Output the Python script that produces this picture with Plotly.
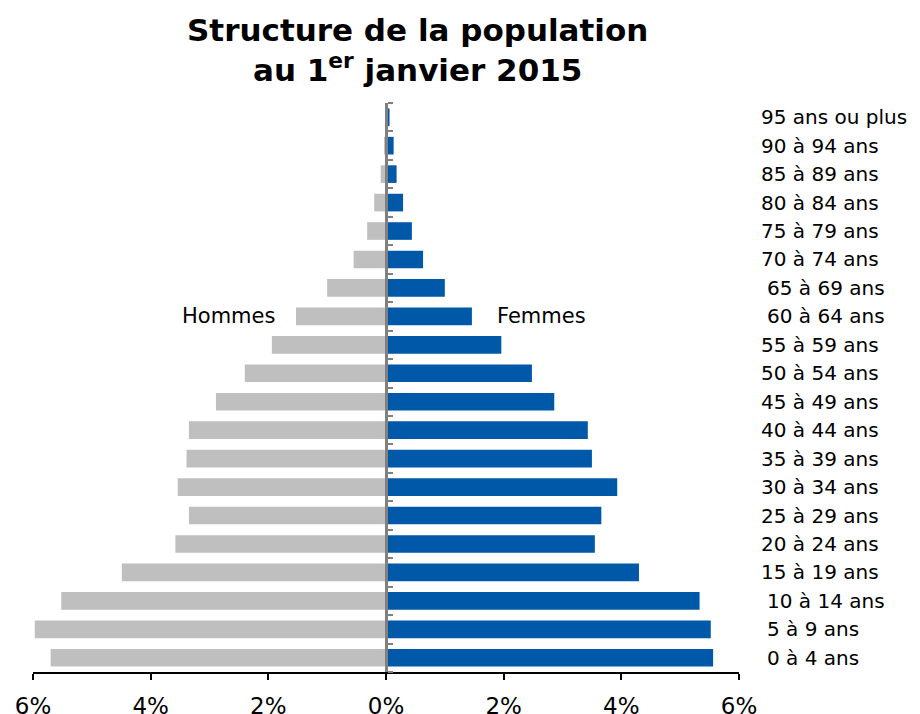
import plotly.graph_objects as go

age_groups = ["0 à 4 ans", "5 à 9 ans", "10 à 14 ans", "15 à 19 ans", "20 à 24 ans",
              "25 à 29 ans", "30 à 34 ans", "35 à 39 ans", "40 à 44 ans", "45 à 49 ans",
              "50 à 54 ans", "55 à 59 ans", "60 à 64 ans", "65 à 69 ans", "70 à 74 ans",
              "75 à 79 ans", "80 à 84 ans", "85 à 89 ans", "90 à 94 ans", "95 ans ou plus"]
hommes = [5.70, 5.97, 5.52, 4.49, 3.58, 3.35, 3.54, 3.39, 3.35, 2.89,
          2.40, 1.94, 1.53, 1.00, 0.55, 0.32, 0.20, 0.09, 0.03, 0.01]
femmes = [5.56, 5.52, 5.33, 4.30, 3.55, 3.66, 3.93, 3.50, 3.43, 2.86,
          2.48, 1.96, 1.46, 1.00, 0.63, 0.44, 0.29, 0.18, 0.13, 0.06]
indented = ["0 à 4 ans", "5 à 9 ans", "10 à 14 ans", "60 à 64 ans", "65 à 69 ans"]
tick_vals = [-6, -4, -2, 0, 2, 4, 6]
tick_text = ["6%", "4%", "2%", "0%", "2%", "4%", "6%"]

FONT = "DejaVu Sans"

fig = go.Figure()
fig.add_trace(go.Bar(y=age_groups, x=[-v for v in hommes], orientation="h",
                     marker=dict(color="#BFBFBF", line=dict(width=0)), name="Hommes"))
fig.add_trace(go.Bar(y=age_groups, x=femmes, orientation="h",
                     marker=dict(color="#0058A8", line=dict(width=0)), name="Femmes"))

annotations = []
for g in age_groups:
    annotations.append(dict(x=1, xref="paper", y=g, yref="y", text=g, showarrow=False,
                            xanchor="left", yanchor="middle",
                            xshift=20 + (6 if g in indented else 0),
                            font=dict(family=FONT, size=20, color="#000000")))
annotations.append(dict(x=-2.67, y="60 à 64 ans", xref="x", yref="y", text="Hommes",
                        showarrow=False, font=dict(family=FONT, size=21, color="#000000")))
annotations.append(dict(x=2.64, y="60 à 64 ans", xref="x", yref="y", text="Femmes",
                        showarrow=False, font=dict(family=FONT, size=21, color="#000000")))
annotations.append(dict(x=0.545, xref="paper", y=1.093, yref="paper",
                        text="<b>Structure de la population<br>au 1<sup>er</sup> janvier 2015</b>",
                        showarrow=False, xanchor="center", yanchor="middle",
                        font=dict(family=FONT, size=31, color="#000000")))

fig.update_layout(
    width=912, height=706,
    margin=dict(l=25, r=181, t=95, b=42),
    paper_bgcolor="white", plot_bgcolor="white",
    barmode="overlay", bargap=0.38,
    showlegend=False,
    xaxis=dict(range=[-6, 6], tickvals=tick_vals, ticktext=tick_text, automargin=False,
               showgrid=False, zeroline=False, showline=True, linecolor="#000000",
               linewidth=2, ticks="outside", ticklen=6, tickwidth=2, tickcolor="#000000",
               ticklabelstandoff=6,
               tickfont=dict(family=FONT, size=23, color="#000000")),
    yaxis=dict(categoryorder="array", categoryarray=age_groups, range=[-0.5, 19.5],
               showgrid=False, zeroline=False, showticklabels=False, automargin=False,
               showline=True, linecolor="#808080", linewidth=3,
               anchor="free", position=0.5, side="right",
               ticks="outside", tickson="boundaries", ticklen=5, tickwidth=2,
               tickcolor="#808080"),
    annotations=annotations,
)

fig.write_html("out.html")
